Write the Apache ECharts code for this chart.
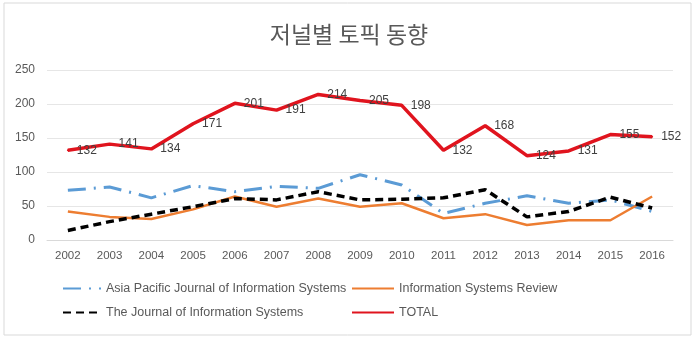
<!DOCTYPE html>
<html>
<head>
<meta charset="utf-8">
<script src="https://cdn.jsdelivr.net/npm/echarts@6/dist/echarts.min.js"></script>
<style>
html,body{margin:0;padding:0;background:#fff;}
#chart{width:698px;height:351px;}
</style>
</head>
<body>
<div id="chart"></div>
<script>
var years = ['2002','2003','2004','2005','2006','2007','2008','2009','2010','2011','2012','2013','2014','2015','2016'];
var asiaPacific = [73, 78, 62, 80, 71, 79, 76, 96, 81, 39, 54, 65, 54, 59, 42];
var isReview = [42, 34, 31, 45, 64, 49, 61, 49, 54, 32, 38, 22, 29, 29, 64];
var journalIS = [14, 27, 38, 49, 61, 59, 71, 59, 60, 62, 74, 34, 42, 63, 47];
var total = [132, 141, 134, 171, 201, 191, 214, 205, 198, 132, 168, 124, 131, 155, 152];
var yTicks = [0, 50, 100, 150, 200, 250];

var names = ['Asia Pacific Journal of Information Systems', 'Information Systems Review', 'The Journal of Information Systems', 'TOTAL'];
var font = "'Liberation Sans', Arial, sans-serif";
var chart = echarts.init(document.getElementById('chart'));
chart.setOption({
  animation: false,
  backgroundColor: '#fff',
  title: {
    text: '저널별 토픽 동향',
    left: 'center',
    top: 18,
    textStyle: {fontFamily: "'Noto Sans CJK KR', sans-serif", fontSize: 23, fontWeight: 'normal', color: '#595959'}
  },
  graphic: [{
    type: 'rect', shape: {x: 4, y: 3, width: 687, height: 332},
    style: {fill: null, stroke: '#d9d9d9', lineWidth: 1}, silent: true
  }],
  legend: [{
    data: [names[0], names[2]],
    orient: 'vertical', left: 57, top: 277, itemGap: 11,
    itemWidth: 38, itemHeight: 14,
    itemStyle: {opacity: 0},
    textStyle: {color: '#595959', fontSize: 12.5, fontFamily: font, padding: [0, 0, 0, 0]}
  }, {
    data: [names[1], names[3]],
    orient: 'vertical', left: 346, top: 277, itemGap: 11,
    itemWidth: 42, itemHeight: 14,
    itemStyle: {opacity: 0},
    textStyle: {color: '#595959', fontSize: 12.5, fontFamily: font, padding: [0, 0, 0, 0]}
  }],
  grid: {left: 47, right: 25, top: 70, bottom: 111, containLabel: false},
  xAxis: {
    type: 'category', data: years, boundaryGap: true,
    axisLine: {show: true, lineStyle: {color: '#d9d9d9'}},
    axisTick: {show: false},
    axisLabel: {color: '#595959', fontSize: 11.5, fontFamily: font, margin: 10}
  },
  yAxis: {
    type: 'value', min: yTicks[0], max: yTicks[yTicks.length - 1], interval: 50,
    axisLine: {show: false}, axisTick: {show: false},
    splitLine: {lineStyle: {color: '#e6e6e6'}},
    axisLabel: {color: '#595959', fontSize: 12, fontFamily: font, margin: 12}
  },
  series: [{
    name: names[0], type: 'line', data: asiaPacific, symbol: 'none',
    itemStyle: {color: '#5b9bd5'},
    lineStyle: {color: '#5b9bd5', width: 3, type: [18, 8, 2, 8]}
  }, {
    name: names[1], type: 'line', data: isReview, symbol: 'none',
    itemStyle: {color: '#ed7d31'},
    lineStyle: {color: '#ed7d31', width: 2.5}
  }, {
    name: names[2], type: 'line', data: journalIS, symbol: 'none',
    itemStyle: {color: '#000'},
    lineStyle: {color: '#000', width: 3.5, type: [8, 5]}
  }, {
    name: names[3], type: 'line', data: total, symbol: 'circle', symbolSize: 2, showSymbol: true,
    itemStyle: {color: '#e0141e'},
    lineStyle: {color: '#e0141e', width: 3.5},
    label: {show: true, position: 'right', distance: 8, color: '#404040', fontSize: 12, fontFamily: font},
    labelLayout: {hideOverlap: false},
    z: 5
  }]
});
</script>
</body>
</html>
